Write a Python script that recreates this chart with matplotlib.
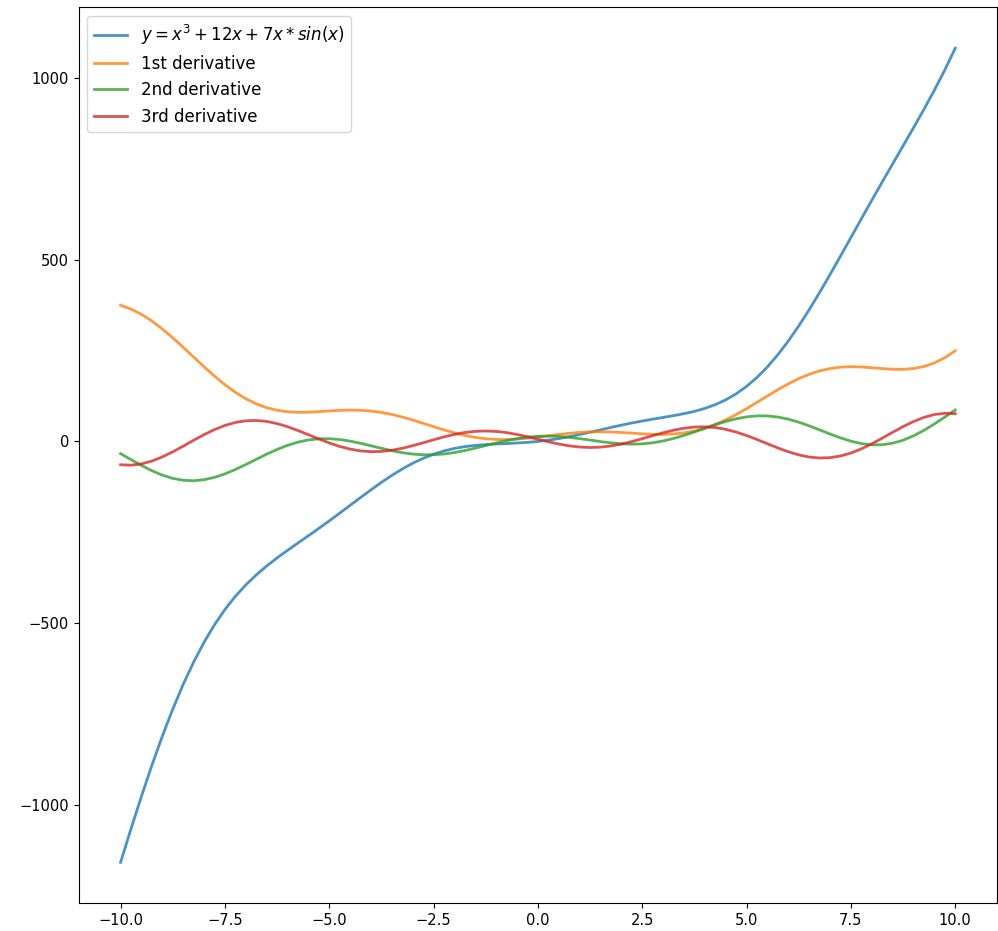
import matplotlib
matplotlib.use('Agg')
import matplotlib.pyplot as plt

# sample points, x from -10 to 10 in steps of 0.25
x = [-10.0, -9.75, -9.5, -9.25, -9.0, -8.75, -8.5, -8.25, -8.0, -7.75,
     -7.5, -7.25, -7.0, -6.75, -6.5, -6.25, -6.0, -5.75, -5.5, -5.25,
     -5.0, -4.75, -4.5, -4.25, -4.0, -3.75, -3.5, -3.25, -3.0, -2.75,
     -2.5, -2.25, -2.0, -1.75, -1.5, -1.25, -1.0, -0.75, -0.5, -0.25,
     0.0, 0.25, 0.5, 0.75, 1.0, 1.25, 1.5, 1.75, 2.0, 2.25,
     2.5, 2.75, 3.0, 3.25, 3.5, 3.75, 4.0, 4.25, 4.5, 4.75,
     5.0, 5.25, 5.5, 5.75, 6.0, 6.25, 6.5, 6.75, 7.0, 7.25,
     7.5, 7.75, 8.0, 8.25, 8.5, 8.75, 9.0, 9.25, 9.5, 9.75, 10.0]

y0 = [-1158.1, -1065.7, -976.4, -891.2, -811.0, -736.7, -668.6, -607.2, -552.6, -504.5,
      -462.6, -426.3, -394.8, -367.3, -342.8, -320.6, -299.7, -279.6, -259.5, -239.3,
      -218.6, -197.4, -175.9, -154.4, -133.2, -112.7, -93.5, -75.8, -60.0, -46.5,
      -35.2, -26.1, -19.3, -14.3, -10.9, -8.7, -7.1, -5.8, -4.4, -2.6,
      0.0, 3.5, 7.8, 13.0, 18.9, 25.3, 31.8, 38.4, 44.7, 50.7,
      56.1, 61.2, 66.0, 70.9, 76.3, 82.7, 90.8, 101.1, 114.3, 131.0,
      151.4, 176.1, 205.2, 238.7, 276.3, 317.7, 362.4, 409.8, 459.2, 509.9,
      561.1, 612.4, 663.4, 713.8, 763.6, 813.2, 863.0, 913.7, 966.4, 1022.1, 1081.9]

y1 = [374.5, 364.1, 349.6, 331.2, 309.5, 285.1, 259.0, 232.0, 205.2, 179.6,
      156.0, 135.1, 117.5, 103.3, 92.8, 85.7, 81.6, 80.1, 80.4, 81.9,
      83.8, 85.4, 86.2, 85.7, 83.6, 79.7, 74.2, 67.1, 58.8, 49.8,
      40.6, 31.6, 23.5, 16.5, 11.0, 7.3, 5.3, 5.1, 6.3, 8.8,
      12.0, 15.6, 19.2, 22.3, 24.7, 26.1, 26.5, 25.9, 24.5, 22.7,
      20.9, 19.6, 19.2, 20.3, 23.4, 28.7, 36.4, 46.7, 59.3, 73.9,
      90.2, 107.5, 125.1, 142.3, 158.4, 172.7, 184.7, 194.0, 200.5, 204.3,
      205.5, 204.8, 202.8, 200.4, 198.5, 198.2, 200.5, 206.1, 215.9, 230.3, 249.5]

y2 = [-33.7, -50.0, -66.0, -80.6, -92.7, -101.7, -106.9, -108.2, -105.4, -99.0,
      -89.4, -77.3, -63.6, -49.3, -35.1, -22.1, -10.8, -2.0, 4.1, 7.2,
      7.5, 5.3, 0.8, -5.1, -12.0, -19.0, -25.5, -31.0, -34.8, -36.8,
      -36.7, -34.6, -30.6, -25.1, -18.5, -11.4, -4.3, 2.2, 7.6, 11.6,
      14.0, 14.6, 13.6, 11.2, 7.7, 3.6, -0.5, -4.1, -6.6, -7.6,
      -6.7, -3.8, 1.2, 8.1, 16.5, 26.0, 36.0, 45.9, 54.8, 62.3,
      67.5, 70.2, 70.1, 67.0, 61.2, 52.9, 42.9, 31.7, 20.4, 9.7,
      0.6, -6.0, -9.4, -9.2, -4.9, 3.3, 15.3, 30.5, 48.0, 67.1, 86.3]

y3 = [-64.2, -65.4, -61.9, -54.1, -42.7, -28.7, -13.1, 3.1, 18.6, 32.5,
      43.9, 52.1, 56.7, 57.6, 55.0, 49.0, 40.5, 30.0, 18.5, 6.8,
      -4.2, -13.7, -21.2, -26.1, -28.2, -27.6, -24.3, -18.9, -11.8, -3.8,
      4.5, 12.5, 19.3, 24.5, 27.7, 28.7, 27.5, 24.2, 19.1, 12.9,
      6.0, -0.9, -7.1, -12.2, -15.5, -16.7, -15.7, -12.5, -7.3, -0.5,
      7.5, 15.8, 23.8, 30.9, 36.3, 39.6, 40.2, 38.1, 33.2, 25.7,
      16.2, 5.2, -6.5, -18.0, -28.5, -37.0, -43.0, -45.6, -44.7, -40.1,
      -31.9, -20.5, -6.6, 8.9, 25.1, 40.7, 54.7, 66.1, 73.9, 77.4, 76.2]

labels = ['$y = x^3 + 12x + 7x*sin(x)$', '1st derivative', '2nd derivative', '3rd derivative']

fig, ax = plt.subplots(figsize=(9.98, 9.31), dpi=100)
fig.subplots_adjust(left=0.079, right=0.999, top=0.992, bottom=0.030)

for ys, lab in zip([y0, y1, y2, y3], labels):
    ax.plot(x, ys, lw=2, alpha=0.8, label=lab)

ax.legend(loc='upper left', fontsize=12)
ax.tick_params(labelsize=10.5)

plt.savefig('out.png', dpi=100)
plt.close()
